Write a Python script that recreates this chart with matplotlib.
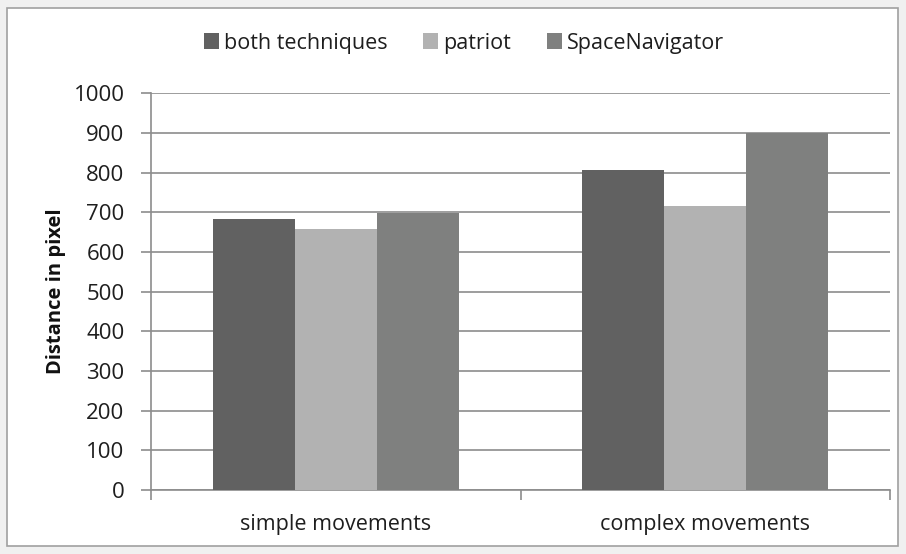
import matplotlib.pyplot as plt
from matplotlib.patches import Rectangle

plt.rcParams['font.family'] = ['Open Sans', 'DejaVu Sans']

categories = ['simple movements', 'complex movements']
series_names = ['both techniques', 'patriot', 'SpaceNavigator']
both_vals = [682, 807]
patriot_vals = [658, 715]
spacenav_vals = [698, 900]
colors = ['#616161', '#b2b2b2', '#7f807f']

fig = plt.figure(figsize=(9.06, 5.54), dpi=100)
fig.patch.set_facecolor('#f0f0f0')
fig.patches.append(Rectangle((7 / 906, 8 / 554), 891 / 906, 538 / 554, transform=fig.transFigure,
                             facecolor='white', edgecolor='#a0a0a0', lw=1.2, zorder=-10))

ax = fig.add_axes([151 / 906, 1 - 490 / 554, (890 - 151) / 906, (490 - 93.3) / 554])
ax.set_facecolor('none')

width = 1 / 4.5
x = list(range(len(categories)))
for i, (vals, name) in enumerate(zip([both_vals, patriot_vals, spacenav_vals], series_names)):
    xs = [xx + (i - 1) * width for xx in x]
    ax.bar(xs, vals, width=width, color=colors[i], label=name, zorder=3)

ax.set_xlim(-0.5, 1.5)
ax.set_ylim(0, 1000)
ax.set_yticks(range(0, 1001, 100))
ax.yaxis.grid(True, color='#8c8c8c', lw=1.2, zorder=0)
ax.set_xticks(x)
ax.set_xticklabels(categories)
ax.set_xticks([-0.5, 0.5, 1.5], minor=True)
ax.tick_params(axis='x', which='major', length=0, pad=17, labelsize=15.5, labelcolor='#1e1e1e')
ax.tick_params(axis='x', which='minor', length=7, color='#8c8c8c', width=1.2)
ax.tick_params(axis='y', length=7, color='#8c8c8c', width=1.2, pad=12, labelsize=16,
               labelcolor='#1e1e1e')
for s in ['top', 'right']:
    ax.spines[s].set_visible(False)
for s in ['left', 'bottom']:
    ax.spines[s].set_color('#8c8c8c')
    ax.spines[s].set_linewidth(1.2)

ax.set_ylabel('Distance in pixel', fontweight='bold', fontsize=14.5, color='#111111')
ax.yaxis.set_label_coords((66 - 151) / 739, 0.5)

ax.legend(loc='center', bbox_to_anchor=(464 / 906, 1 - 43 / 554), bbox_transform=fig.transFigure,
          ncol=3, frameon=False, fontsize=15.5, handlelength=0.7, handleheight=0.7,
          handletextpad=0.25, columnspacing=1.65, labelcolor='#1e1e1e')

fig.savefig('out.png', dpi=100)
